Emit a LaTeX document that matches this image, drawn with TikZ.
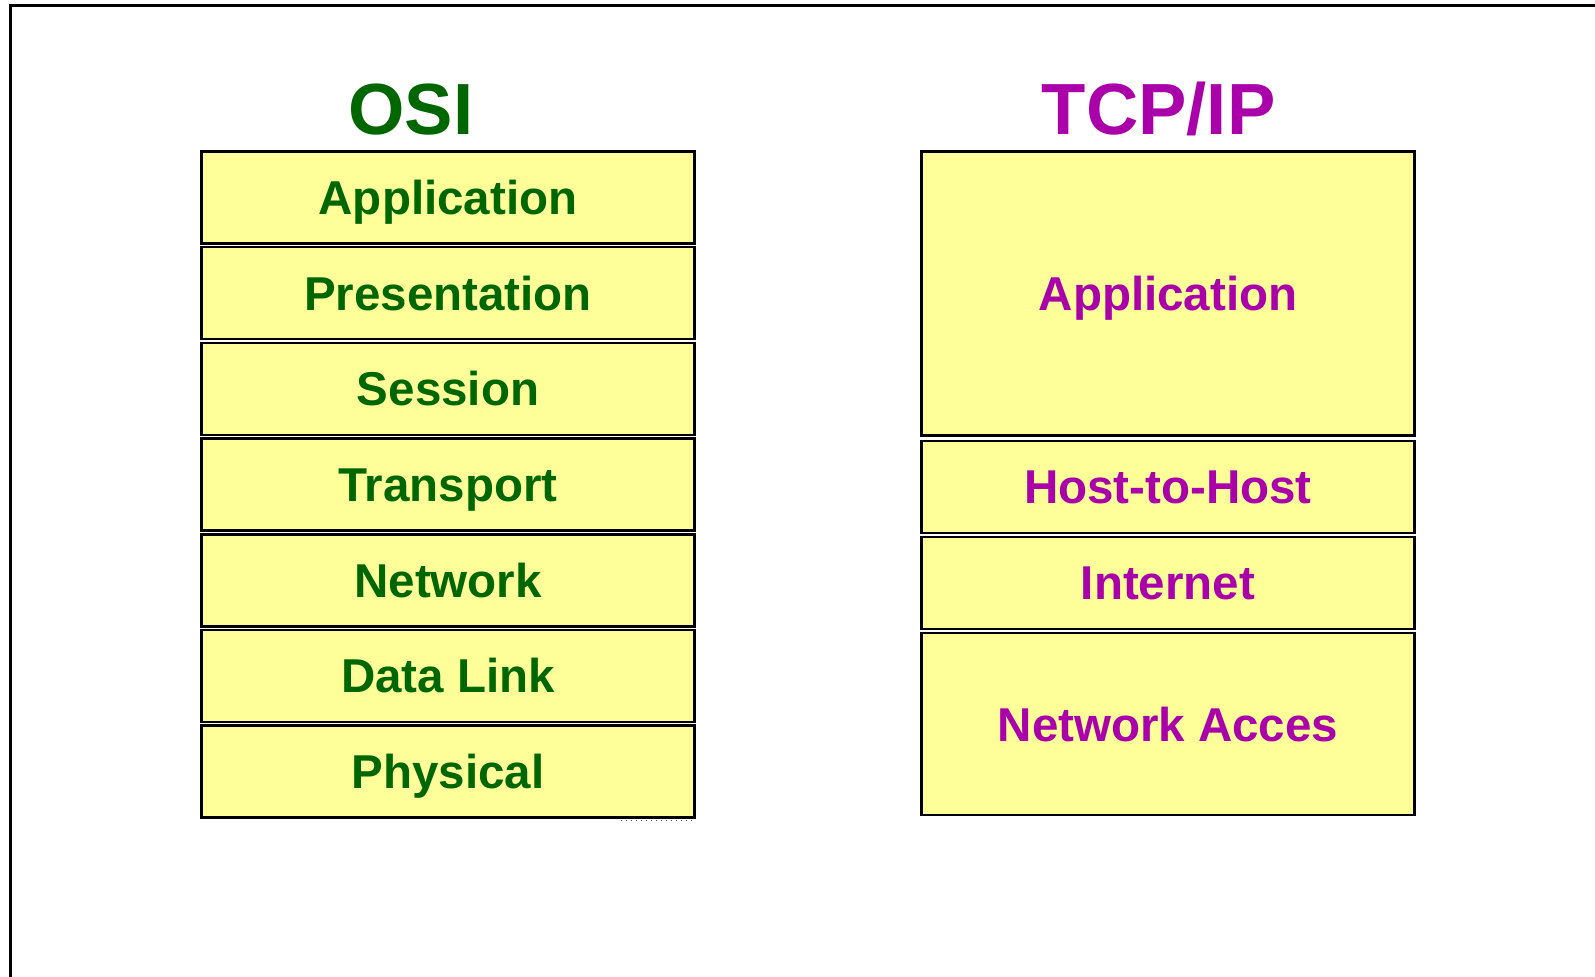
\documentclass[tikz,border=0pt]{standalone}
\usepackage{fontspec}
\setmainfont{Liberation Sans}
\definecolor{layerfill}{HTML}{FFFF99}
\definecolor{osigreen}{HTML}{006600}
\definecolor{tcpmag}{HTML}{AA00AA}
\begin{document}
\begin{tikzpicture}[x=0.5pt,y=-0.5pt,
  layer/.style={draw=black, line width=1.3pt, fill=layerfill, minimum width=246.5pt,
    inner sep=0pt, outer sep=0pt, font=\fontsize{23.75}{28}\selectfont\bfseries,
    text height=17pt, text depth=0pt},
  osilayer/.style={layer, text=osigreen, minimum height=46pt},
  tcplayer/.style={layer, text=tcpmag},
  title/.style={anchor=base, inner sep=0pt, font=\fontsize{36.25}{40}\selectfont\bfseries},
  frame/.style={draw=black, line width=1.5pt}]
\useasboundingbox (0,0) rectangle (1595,977);
% frame
\coordinate (fb) at (10,977);
\coordinate (fc) at (10,5.5);
\coordinate (fr) at (1595,5.5);
\draw[frame] (fb) -- (fc) -- (fr);
% titles
\node[title, text=osigreen] (osititle) at (411,135) {OSI};
\node[title, text=tcpmag] (tcptitle) at (1158.6,135) {TCP/IP};
% OSI layers
\node[osilayer] (oapp) at (448,197.5) {Application};
\node[osilayer] (opres) at (448,293.2) {Presentation};
\node[osilayer] (osess) at (448,388.9) {Session};
\node[osilayer] (otrans) at (448,484.6) {Transport};
\node[osilayer] (onet) at (448,580.3) {Network};
\node[osilayer] (odl) at (448,676.0) {Data Link};
\node[osilayer] (ophys) at (448,771.7) {Physical};
\coordinate (dota) at (621,820.5);
\coordinate (dotb) at (695,820.5);
\draw[dotted, line width=0.5pt, black!70] (dota) -- (dotb);
% TCP/IP layers
\node[tcplayer, minimum height=142pt] (tapp) at (1168,293.5) {Application};
\node[tcplayer, minimum height=46pt] (thost) at (1168,487) {Host-to-Host};
\node[tcplayer, minimum height=46pt] (tint) at (1168,583) {Internet};
\node[tcplayer, minimum height=91pt] (tna) at (1168,724) {Network Acces};
\end{tikzpicture}
\end{document}
